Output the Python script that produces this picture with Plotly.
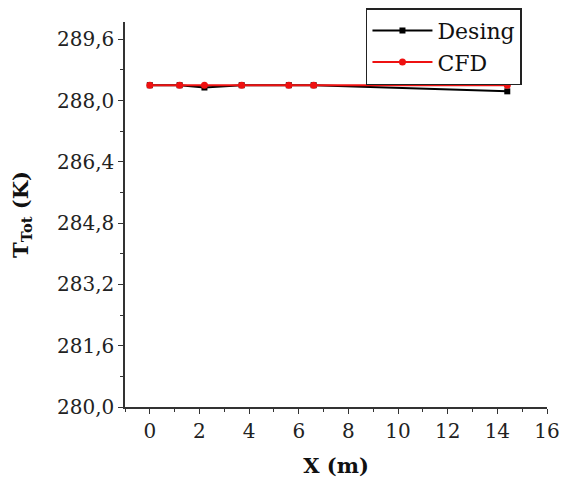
import plotly.graph_objects as go

x_design = [0, 1.2, 2.2, 3.7, 5.6, 6.6, 14.4]
t_design = [288.40, 288.40, 288.34, 288.40, 288.40, 288.40, 288.24]
x_cfd = [0, 1.2, 2.2, 3.7, 5.6, 6.6, 14.4]
t_cfd = [288.40, 288.40, 288.40, 288.40, 288.40, 288.40, 288.40]

y_ticks = [280.0, 281.6, 283.2, 284.8, 286.4, 288.0, 289.6]
x_ticks = [0, 2, 4, 6, 8, 10, 12, 14, 16]

FONT = "DejaVu Serif"

fig = go.Figure()
fig.add_trace(go.Scatter(x=x_design, y=t_design, mode="lines+markers", name="Desing",
                         line=dict(color="black", width=2),
                         marker=dict(symbol="square", size=6, color="black")))
fig.add_trace(go.Scatter(x=x_cfd, y=t_cfd, mode="lines+markers", name="CFD",
                         line=dict(color="#ee1111", width=2),
                         marker=dict(symbol="circle", size=7, color="#ee1111")))

fig.update_layout(
    width=553, height=470,
    margin=dict(l=117, r=14, t=14, b=71, autoexpand=False),
    paper_bgcolor="white", plot_bgcolor="white",
    separators=",.",
    font=dict(family=FONT, size=20, color="#222"),
    legend=dict(x=0.571, y=1.036, xanchor="left", yanchor="top",
                bordercolor="#222", borderwidth=1.5, bgcolor="white",
                font=dict(family=FONT, size=22, color="#111"),
                tracegroupgap=0, itemwidth=60),
    xaxis=dict(range=[-1, 16], tickvals=x_ticks, ticks="outside", ticklen=5,
               tickwidth=1.2, tickcolor="#333", showline=True, linecolor="#333",
               linewidth=1.5, showgrid=False, zeroline=False, automargin=False,
               ticklabeloverflow="allow",
               tickfont=dict(family=FONT, size=20, color="#222"),
               minor=dict(dtick=1, tick0=0, ticks="outside", ticklen=3, tickcolor="#333"),
               title=dict(text="<b>X (m)</b>", font=dict(family=FONT, size=21, color="#111"), standoff=20)),
    yaxis=dict(range=[280, 290.05], tickvals=y_ticks, tickformat=".1f", ticks="outside",
               ticklen=5, tickwidth=1.2, tickcolor="#333", showline=True, linecolor="#333",
               linewidth=1.5, showgrid=False, zeroline=False, automargin=False,
               tickfont=dict(family=FONT, size=20, color="#222"),
               minor=dict(dtick=0.8, tick0=280, ticks="outside", ticklen=3, tickcolor="#333"),
               title=dict(text="<b>T<sub>Tot</sub> (K)</b>", font=dict(family=FONT, size=21, color="#111"), standoff=24)),
    showlegend=True,
)

fig.write_html("out.html")
